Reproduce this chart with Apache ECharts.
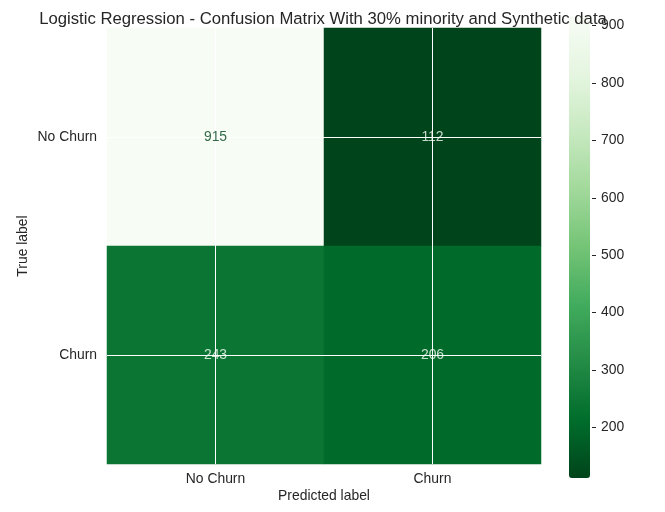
<!DOCTYPE html>
<html>
<head>
<meta charset="utf-8">
<script src="https://cdn.jsdelivr.net/npm/echarts@6/dist/echarts.min.js"></script>
<style>html,body{margin:0;padding:0;background:#fff}#c{width:665px;height:512px}</style>
</head>
<body>
<div id="c"></div>
<script>
const predictedLabels = ['No Churn', 'Churn'];
const trueLabels = ['No Churn', 'Churn'];
// rows = true label, cols = predicted label
const matrixRows = [
  [915, 112],
  [243, 206]
];
const colorbarTicks = [200, 300, 400, 500, 600, 700, 800, 900];
const titleText = 'Logistic Regression - Confusion Matrix With 30% minority and Synthetic data';

const allVals = matrixRows.flat();
const vmin = Math.min(...allVals), vmax = Math.max(...allVals);
const thresh = (vmin + vmax) / 2;
const greensR = ['#00441b','#006d2c','#238b45','#41ab5d','#74c476','#a1d99b','#c7e9c0','#e5f5e0','#f7fcf5'];

const heatData = [];
const textData = [];
matrixRows.forEach((row, r) => row.forEach((v, c) => {
  heatData.push([c, r, v]);
  textData.push({
    value: [c, r, v],
    label: { color: v < thresh ? greensR[8] : greensR[0] }
  });
}));

const FONT = 'Liberation Sans, Arial, sans-serif';
const TXT = '#262626';
const FS = 13.9;

const chart = echarts.init(document.getElementById('c'), null, { renderer: 'canvas' });
chart.setOption({
  animation: false,
  backgroundColor: '#fff',
  title: {
    text: titleText,
    left: 318, top: 6, textAlign: 'center',
    textStyle: { fontSize: 16.7, fontWeight: 'normal', color: TXT, fontFamily: FONT }
  },
  grid: [
    { left: 107, top: 28, width: 434, height: 436 },
    { left: 569, top: 17, width: 21, height: 461 }
  ],
  xAxis: [
    {
      type: 'category', data: predictedLabels, gridIndex: 0,
      name: 'Predicted label', nameLocation: 'middle', nameGap: 25, nameMoveOverlap: false,
      nameTextStyle: { fontSize: FS, color: TXT, fontFamily: FONT },
      axisLine: { show: false }, axisTick: { show: false },
      axisLabel: { fontSize: FS, color: TXT, fontFamily: FONT, margin: 8 },
      splitLine: { show: false }
    },
    { type: 'value', gridIndex: 1, show: false, min: 0, max: 1 }
  ],
  yAxis: [
    {
      type: 'category', data: trueLabels, gridIndex: 0, inverse: true,
      name: 'True label', nameLocation: 'middle', nameGap: 77, nameRotate: 90, nameMoveOverlap: false,
      nameTextStyle: { fontSize: FS, color: TXT, fontFamily: FONT },
      axisLine: { show: false }, axisTick: { show: false },
      axisLabel: { fontSize: FS, color: TXT, fontFamily: FONT, margin: 10 },
      splitLine: { show: false }
    },
    {
      type: 'value', gridIndex: 1, min: vmin, max: vmax, position: 'right', offset: 2,
      axisLine: { show: true, onZero: false, lineStyle: { color: 'rgba(0,0,0,0)' } },
      axisTick: { show: true, length: 4, inside: false, customValues: colorbarTicks, lineStyle: { color: TXT, width: 1 } },
      axisLabel: { fontSize: FS, color: TXT, fontFamily: FONT, margin: 9, customValues: colorbarTicks },
      splitLine: { show: false }, z: 10
    }
  ],
  visualMap: {
    type: 'continuous', min: vmin, max: vmax, seriesIndex: 0,
    calculable: false, orient: 'vertical', left: 569, top: 17,
    itemWidth: 21, itemHeight: 461, padding: 0, text: null, showLabel: false,
    inRange: { color: greensR },
    hoverLink: false, z: 1
  },
  series: [{
    type: 'heatmap', xAxisIndex: 0, yAxisIndex: 0, z: 2,
    data: heatData,
    label: { show: false },
    itemStyle: { borderWidth: 0 },
    emphasis: { disabled: true },
    markLine: {
      silent: true, symbol: 'none', animation: false, z: 5,
      label: { show: false },
      lineStyle: { color: '#ffffff', width: 1, type: 'solid' },
      emphasis: { disabled: true },
      data: [
        ...predictedLabels.map(l => ({ xAxis: l })),
        ...trueLabels.map(l => ({ yAxis: l }))
      ]
    }
  }, {
    type: 'scatter', xAxisIndex: 0, yAxisIndex: 0, z: 10,
    symbolSize: 0, silent: true,
    data: textData,
    label: { show: true, position: 'inside', fontSize: FS, fontFamily: FONT, formatter: p => String(p.value[2]) },
    emphasis: { disabled: true }
  }]
});
</script>
</body>
</html>
